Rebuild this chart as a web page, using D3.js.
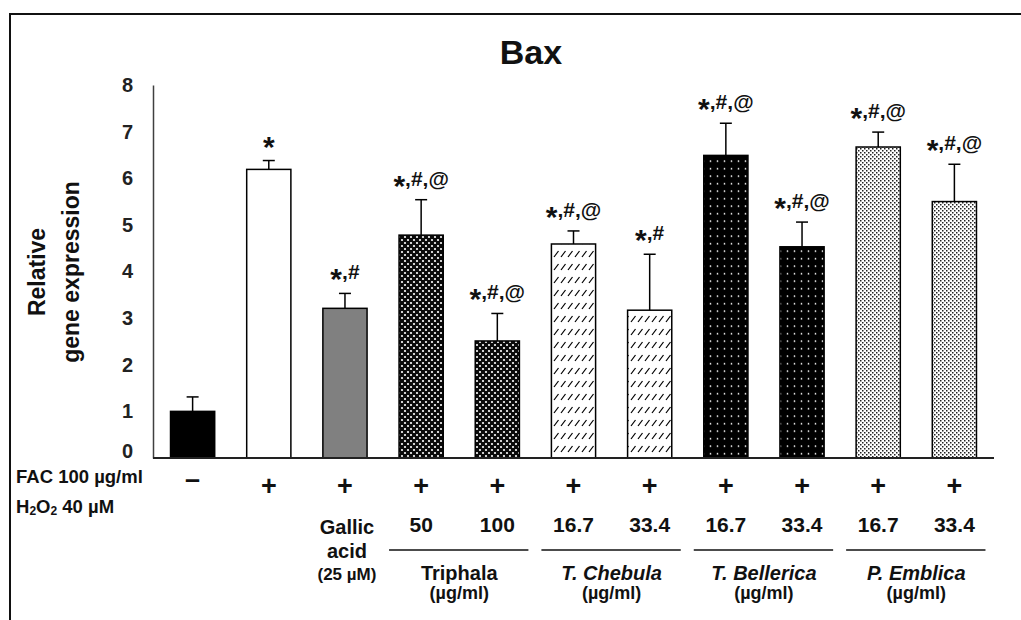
<!DOCTYPE html>
<html>
<head>
<meta charset="utf-8">
<script src="https://cdn.jsdelivr.net/npm/d3@7"></script>
<style>
    body { margin: 0; background: #fff; }
    svg { display: block; font-family: "Liberation Sans", Arial, sans-serif; }
</style>
</head>
<body>
<svg id="chart" width="1021" height="620"></svg>
<script>
//chart data
var categories = ["Control", "FAC", "Gallic acid", "Triphala 50", "Triphala 100",
    "T. Chebula 16.7", "T. Chebula 33.4", "T. Bellerica 16.7", "T. Bellerica 33.4",
    "P. Emblica 16.7", "P. Emblica 33.4"];
var values = [1.00, 6.19, 3.21, 4.78, 2.51, 4.59, 3.17, 6.49, 4.53, 6.67, 5.50];
var errors = [0.31, 0.19, 0.32, 0.76, 0.59, 0.28, 1.20, 0.69, 0.53, 0.32, 0.80];
var signif = ["", "*", "*,#", "*,#,@", "*,#,@", "*,#,@", "*,#", "*,#,@", "*,#,@", "*,#,@", "*,#,@"];
var facSigns = ["\u2013", "+", "+", "+", "+", "+", "+", "+", "+", "+", "+"];
var doses = ["", "", "", "50", "100", "16.7", "33.4", "16.7", "33.4", "16.7", "33.4"];
var fillKeys = ["black", "white", "gray", "triphala", "triphala", "chebula", "chebula",
    "bellerica", "bellerica", "emblica", "emblica"];
var groupNames = ["Triphala", "T. Chebula", "T. Bellerica", "P. Emblica"];
var groupItalic = [false, true, true, true];
var groupMembers = [[3, 4], [5, 6], [7, 8], [9, 10]];
var gallicLines = ["Gallic", "acid", "(25 \u00b5M)"];
var yTicks = [0, 1, 2, 3, 4, 5, 6, 7, 8];

var svg = d3.select("#chart");
var ink = "#111";

var x = d3.scaleBand()
    .domain(categories)
    .range([153, 994])
    .paddingInner(0.42)
    .paddingOuter(0.23);

var y = d3.scaleLinear()
    .domain([0, 8])
    .range([458, 85]);

function cx(i) { return x(categories[i]) + x.bandwidth() / 2; }

//fill patterns
var defs = svg.append("defs");

var pTri = defs.append("pattern").attr("id", "triphala")
    .attr("patternUnits", "userSpaceOnUse").attr("width", 6).attr("height", 6);
pTri.append("rect").attr("width", 6).attr("height", 6).attr("fill", "#0a0a0a");
[[0, 0], [6, 0], [0, 6], [6, 6], [3, 3]].forEach(function (p) {
    pTri.append("circle").attr("cx", p[0]).attr("cy", p[1]).attr("r", 1.1).attr("fill", "#fff");
});

var pChe = defs.append("pattern").attr("id", "chebula")
    .attr("patternUnits", "userSpaceOnUse").attr("width", 7).attr("height", 13);
pChe.append("rect").attr("width", 7).attr("height", 13).attr("fill", "#fff");
pChe.append("path").attr("d", "M1,10 L5.5,4").attr("stroke", "#000").attr("stroke-width", 1.2);

var pBel = defs.append("pattern").attr("id", "bellerica")
    .attr("patternUnits", "userSpaceOnUse").attr("width", 7).attr("height", 7.5);
pBel.append("rect").attr("width", 7).attr("height", 7.5).attr("fill", "#000");
pBel.append("circle").attr("cx", 3.5).attr("cy", 3.7).attr("r", 0.85).attr("fill", "#fff");

var pEmb = defs.append("pattern").attr("id", "emblica")
    .attr("patternUnits", "userSpaceOnUse").attr("width", 4).attr("height", 4);
pEmb.append("rect").attr("width", 4).attr("height", 4).attr("fill", "#fff");
pEmb.append("rect").attr("x", 0).attr("y", 0).attr("width", 1.5).attr("height", 1.5).attr("fill", "#222");
pEmb.append("rect").attr("x", 2).attr("y", 2).attr("width", 1.5).attr("height", 1.5).attr("fill", "#222");

function fillFor(key) {
    if (key === "black") { return "#000"; }
    if (key === "white") { return "#fff"; }
    if (key === "gray") { return "#808080"; }
    return "url(#" + key + ")";
}

//outer frame
svg.append("path")
    .attr("d", "M10,620 V14 H1021")
    .attr("fill", "none")
    .attr("stroke", ink)
    .attr("stroke-width", 2);

//title
svg.append("text")
    .attr("x", 531).attr("y", 64)
    .attr("text-anchor", "middle")
    .attr("font-size", 34).attr("font-weight", "bold")
    .attr("fill", ink)
    .text("Bax");

//y axis
var yAxis = svg.append("g")
    .attr("transform", "translate(" + x.range()[0] + ",0)")
    .call(d3.axisLeft(y).tickValues(yTicks).tickSize(0).tickPadding(20).tickFormat(d3.format("d")));
yAxis.select(".domain").attr("stroke", "#404040").attr("stroke-width", 1.5);
yAxis.selectAll("text")
    .attr("font-size", 20).attr("font-weight", "bold")
    .attr("font-family", "'Liberation Sans', Arial, sans-serif")
    .attr("fill", "#222");
yAxis.selectAll(".tick").filter(function (d) { return d === 0; })
    .select("text").attr("transform", "translate(0,-7)");

//y axis title, two rotated lines
var yTitle = svg.append("g")
    .attr("font-size", 23).attr("font-weight", "bold").attr("fill", ink)
    .attr("text-anchor", "middle");
yTitle.append("text")
    .attr("transform", "translate(45,272) rotate(-90)")
    .text("Relative");
yTitle.append("text")
    .attr("transform", "translate(79,272) rotate(-90)")
    .text("gene expression");

//bars
svg.selectAll(".bar")
    .data(categories)
    .enter()
    .append("rect")
    .classed("bar", true)
    .attr("x", function (d) { return x(d); })
    .attr("y", function (d, i) { return y(values[i]); })
    .attr("width", x.bandwidth())
    .attr("height", function (d, i) { return y(0) - y(values[i]); })
    .attr("fill", function (d, i) { return fillFor(fillKeys[i]); })
    .attr("stroke", "#000")
    .attr("stroke-width", 1.5);

//error bars (upper only)
var capHalf = 6;
var err = svg.selectAll(".err")
    .data(categories)
    .enter()
    .append("g")
    .classed("err", true)
    .attr("stroke", "#000")
    .attr("stroke-width", 1.5);
err.append("line")
    .attr("x1", function (d, i) { return cx(i); })
    .attr("x2", function (d, i) { return cx(i); })
    .attr("y1", function (d, i) { return y(values[i]); })
    .attr("y2", function (d, i) { return y(values[i] + errors[i]); });
err.append("line")
    .attr("x1", function (d, i) { return cx(i) - capHalf; })
    .attr("x2", function (d, i) { return cx(i) + capHalf; })
    .attr("y1", function (d, i) { return y(values[i] + errors[i]); })
    .attr("y2", function (d, i) { return y(values[i] + errors[i]); });

//x axis baseline
svg.append("line")
    .attr("x1", x.range()[0]).attr("x2", x.range()[1])
    .attr("y1", y(0)).attr("y2", y(0))
    .attr("stroke", "#222").attr("stroke-width", 2);

//significance marks, the star is drawn bigger and lowered
svg.selectAll(".sig")
    .data(categories)
    .enter()
    .append("text")
    .classed("sig", true)
    .attr("x", function (d, i) { return cx(i); })
    .attr("y", function (d, i) { return y(values[i] + errors[i]) - 14; })
    .attr("text-anchor", "middle")
    .attr("font-weight", "bold")
    .attr("fill", ink)
    .each(function (d, i) {
        var s = signif[i];
        if (!s) { return; }
        var t = d3.select(this);
        t.append("tspan").attr("font-size", 30).attr("dy", 10).text(s.charAt(0));
        if (s.length > 1) {
            t.append("tspan").attr("font-size", 21).attr("dy", -10).text(s.substring(1));
        }
    });

//treatment rows under the axis
svg.append("text")
    .attr("x", 16).attr("y", 483)
    .attr("font-size", 18.5).attr("font-weight", "bold").attr("fill", ink)
    .text("FAC 100 \u00b5g/ml");
var h2o2 = svg.append("text")
    .attr("x", 16).attr("y", 513)
    .attr("font-size", 18.5).attr("font-weight", "bold").attr("fill", ink);
h2o2.append("tspan").text("H");
h2o2.append("tspan").attr("font-size", 12).attr("dy", 2).text("2");
h2o2.append("tspan").attr("dy", -2).text("O");
h2o2.append("tspan").attr("font-size", 12).attr("dy", 2).text("2");
h2o2.append("tspan").attr("dy", -2).text(" 40 \u00b5M");

svg.selectAll(".fac")
    .data(facSigns)
    .enter()
    .append("text")
    .classed("fac", true)
    .attr("x", function (d, i) { return cx(i); })
    .attr("y", function (d, i) { return i === 0 ? 488 : 495; })
    .attr("text-anchor", "middle")
    .attr("font-size", 27).attr("font-weight", "bold").attr("fill", ink)
    .text(function (d) { return d; });

svg.selectAll(".dose")
    .data(doses)
    .enter()
    .append("text")
    .classed("dose", true)
    .attr("x", function (d, i) { return cx(i); })
    .attr("y", 532)
    .attr("text-anchor", "middle")
    .attr("font-size", 21).attr("font-weight", "bold").attr("fill", ink)
    .text(function (d) { return d; });

//gallic acid label under its bar
var gallicY = [534, 558, 580];
var gallicSize = [20, 20, 17];
svg.selectAll(".gallic")
    .data(gallicLines)
    .enter()
    .append("text")
    .classed("gallic", true)
    .attr("x", cx(2) + 2)
    .attr("y", function (d, i) { return gallicY[i]; })
    .attr("text-anchor", "middle")
    .attr("font-size", function (d, i) { return gallicSize[i]; })
    .attr("font-weight", "bold").attr("fill", ink)
    .text(function (d) { return d; });

//extract groups: rule, name, unit
var grp = svg.selectAll(".grp")
    .data(groupNames)
    .enter()
    .append("g")
    .classed("grp", true);
grp.append("line")
    .attr("x1", function (d, i) { return x(categories[groupMembers[i][0]]) - 10; })
    .attr("x2", function (d, i) { return x(categories[groupMembers[i][1]]) + x.bandwidth() + 9; })
    .attr("y1", 550).attr("y2", 550)
    .attr("stroke", "#111").attr("stroke-width", 1.5);
grp.append("text")
    .attr("x", function (d, i) { return (cx(groupMembers[i][0]) + cx(groupMembers[i][1])) / 2; })
    .attr("y", 580)
    .attr("text-anchor", "middle")
    .attr("font-size", 20).attr("font-weight", "bold")
    .attr("font-style", function (d, i) { return groupItalic[i] ? "italic" : "normal"; })
    .attr("fill", ink)
    .text(function (d) { return d; });
grp.append("text")
    .attr("x", function (d, i) { return (cx(groupMembers[i][0]) + cx(groupMembers[i][1])) / 2; })
    .attr("y", 599)
    .attr("text-anchor", "middle")
    .attr("font-size", 18).attr("font-weight", "bold")
    .attr("fill", ink)
    .text("(\u00b5g/ml)");
</script>
</body>
</html>
